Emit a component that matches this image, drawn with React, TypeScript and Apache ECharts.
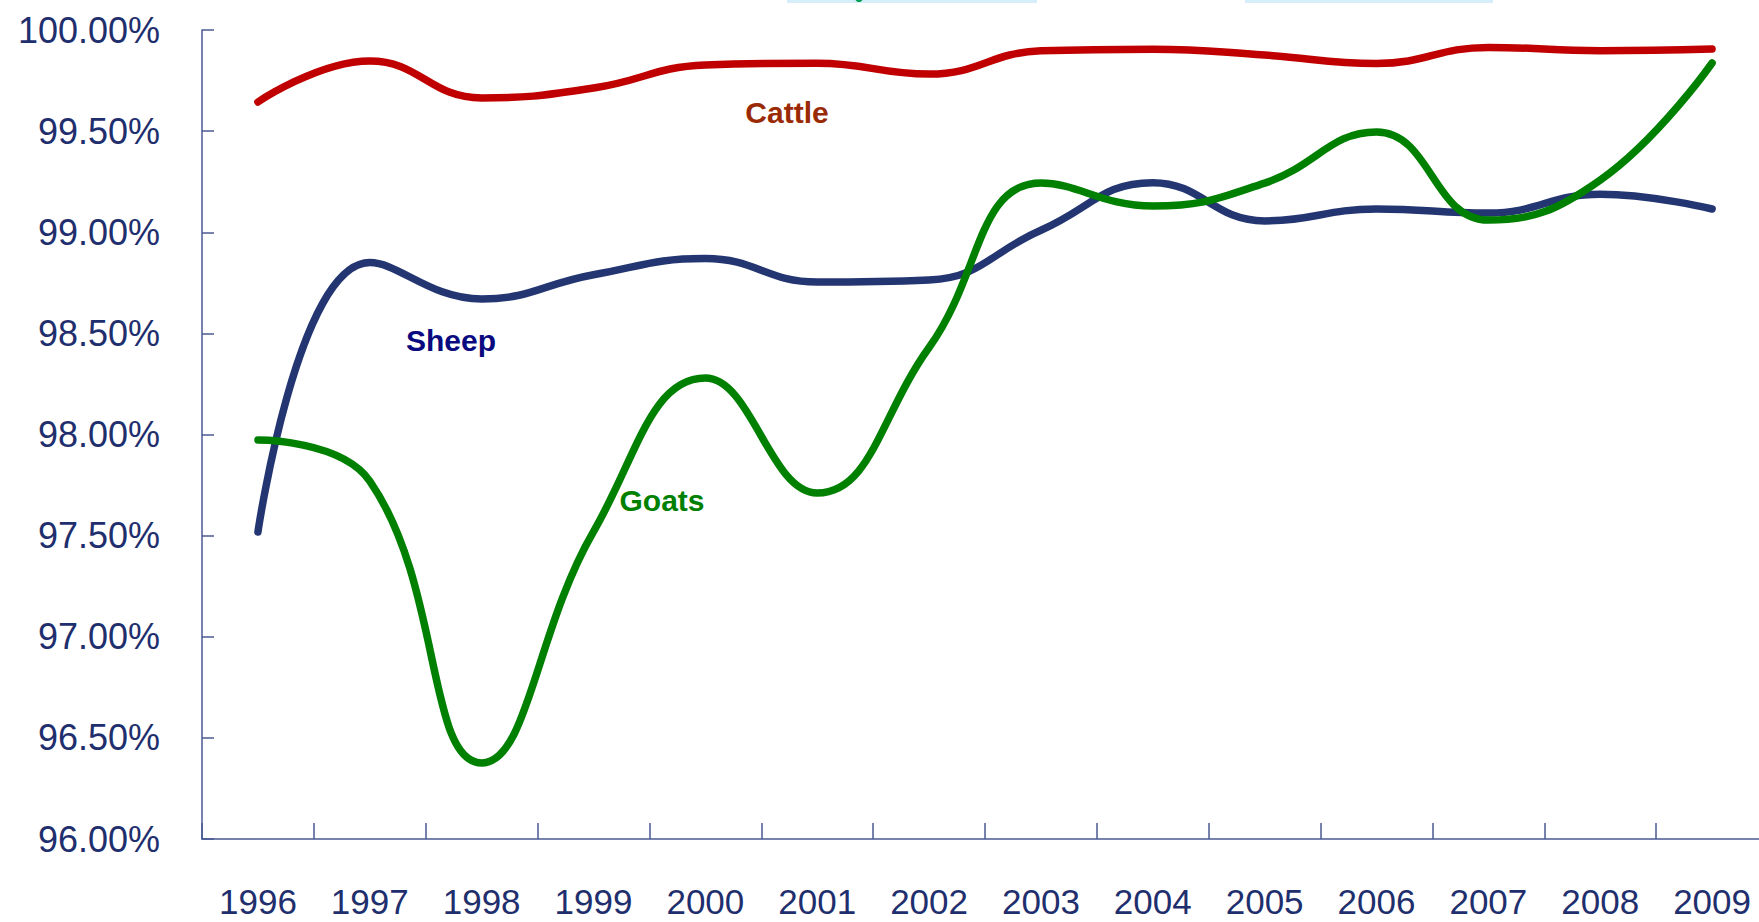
import React, { useEffect, useRef } from "react";
import * as echarts from "echarts";

const years = ["1996", "1997", "1998", "1999", "2000", "2001", "2002", "2003", "2004", "2005", "2006", "2007", "2008", "2009"];
const cattle = [99.644, 99.847, 99.664, 99.713, 99.827, 99.836, 99.782, 99.897, 99.905, 99.876, 99.834, 99.914, 99.898, 99.906];
const sheep = [97.518, 98.85, 98.67, 98.79, 98.87, 98.754, 98.764, 99.01, 99.245, 99.056, 99.115, 99.095, 99.188, 99.115];
const goats = [97.973, 97.77, 96.376, 97.52, 98.279, 97.711, 98.43, 99.243, 99.13, 99.243, 99.496, 99.06, 99.258, 99.837];
const seriesNames = ["Cattle", "Sheep", "Goats"];

const axisColor = "#4A5894";
const labelColor = "#1F2F6E";
const font = "'Liberation Sans', Arial, sans-serif";

export default function App() {
  const ref = useRef<HTMLDivElement>(null);
  useEffect(() => {
    if (!ref.current) return;
    const chart = echarts.init(ref.current, null, { renderer: "svg" });
    const lineSeries = (name: string, data: number[], color: string) => ({
      name,
      type: "line",
      data,
      smooth: 0.45,
      symbol: "none",
      lineStyle: { color, width: 7.5, cap: "round" },
      itemStyle: { color },
    });
    chart.setOption({
      animation: false,
      backgroundColor: "#ffffff",
      grid: { left: 202, top: 30, right: -9, bottom: 83, containLabel: false, outerBoundsMode: "none" },
      xAxis: {
        type: "category",
        data: years,
        boundaryGap: true,
        axisLine: { show: true, lineStyle: { color: axisColor, width: 1.5 } },
        axisTick: { show: true, inside: true, length: 16, interval: 0, lineStyle: { color: axisColor, width: 1.5 } },
        axisLabel: { color: labelColor, fontSize: 35, lineHeight: 35, fontFamily: font, margin: 45, interval: 0 },
        splitLine: { show: false },
      },
      yAxis: {
        type: "value",
        min: 96,
        max: 100,
        interval: 0.5,
        axisLine: { show: true, lineStyle: { color: axisColor, width: 1.5 } },
        axisTick: { show: true, inside: true, length: 12, lineStyle: { color: axisColor, width: 1.5 } },
        axisLabel: {
          color: labelColor,
          fontSize: 36,
          fontFamily: font,
          margin: 42,
          formatter: (v: number) => v.toFixed(2) + "%",
        },
        splitLine: { show: false },
      },
      series: [
        lineSeries(seriesNames[0], cattle, "#C00000"),
        lineSeries(seriesNames[1], sheep, "#243671"),
        lineSeries(seriesNames[2], goats, "#008000"),
      ],
      graphic: [
        { type: "rect", shape: { x: 787, y: -10, width: 250, height: 13 }, style: { fill: "#D6EEF9" } },
        { type: "rect", shape: { x: 1245, y: -10, width: 248, height: 13 }, style: { fill: "#D6EEF9" } },
        { type: "circle", shape: { cx: 859, cy: -2, r: 4 }, style: { fill: "#00A050" } },
        {
          type: "text",
          x: 787,
          y: 112,
          style: { text: seriesNames[0], fill: "#9A2A05", font: `bold 30px ${font}`, align: "center", verticalAlign: "middle" },
        },
        {
          type: "text",
          x: 451,
          y: 340,
          style: { text: seriesNames[1], fill: "#0A0A80", font: `bold 30px ${font}`, align: "center", verticalAlign: "middle" },
        },
        {
          type: "text",
          x: 662,
          y: 500,
          style: { text: seriesNames[2], fill: "#008000", font: `bold 30px ${font}`, align: "center", verticalAlign: "middle" },
        },
      ],
    });
    return () => chart.dispose();
  }, []);
  return <div ref={ref} style={{ position: "absolute", left: 0, top: 0, width: 1759, height: 922 }} />;
}
